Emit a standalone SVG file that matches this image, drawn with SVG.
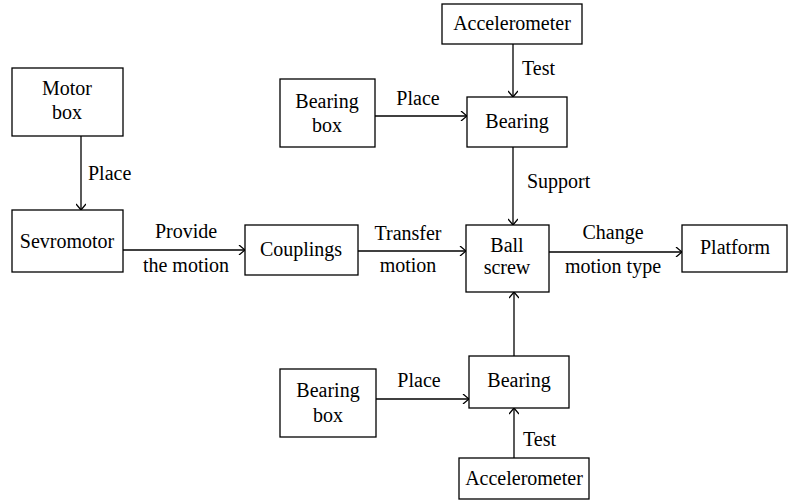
<svg xmlns="http://www.w3.org/2000/svg" width="788" height="500" viewBox="0 0 788 500">
<style>
.n{fill:#fff;stroke:#000;stroke-width:1.3}
text{font-family:'Liberation Serif','DejaVu Serif',serif;font-size:20px;fill:#000}
.c{text-anchor:middle}
.e line{stroke:#000;stroke-width:1.3}
</style>
<defs>
<marker id="a" viewBox="0 0 10 10" refX="10" refY="5" markerWidth="10" markerHeight="10" markerUnits="userSpaceOnUse" orient="auto">
<polyline points="4,0 10,5 4,10" fill="none" stroke="#000" stroke-width="1.3"/>
</marker>
</defs>
<rect width="788" height="500" fill="#fff"/>
<g font-family="Liberation Serif, DejaVu Serif, serif">
<g class="e" id="connectors">
<line x1="81" y1="136" x2="81" y2="210" marker-end="url(#a)"/>
<line x1="123" y1="250" x2="245" y2="250" marker-end="url(#a)"/>
<line x1="358" y1="251" x2="466" y2="251" marker-end="url(#a)"/>
<line x1="549" y1="252" x2="682" y2="252" marker-end="url(#a)"/>
<line x1="513" y1="44" x2="513" y2="97" marker-end="url(#a)"/>
<line x1="375" y1="116" x2="467" y2="116" marker-end="url(#a)"/>
<line x1="513" y1="147" x2="513" y2="225" marker-end="url(#a)"/>
<line x1="514" y1="356" x2="514" y2="292" marker-end="url(#a)"/>
<line x1="376" y1="399" x2="469" y2="399" marker-end="url(#a)"/>
<line x1="514" y1="458" x2="514" y2="408" marker-end="url(#a)"/>
<text x="88" y="180">Place</text>
<text class="c" x="186" y="238">Provide</text>
<text class="c" x="186" y="272">the motion</text>
<text class="c" x="408" y="240">Transfer</text>
<text class="c" x="408" y="272">motion</text>
<text class="c" x="613" y="239">Change</text>
<text class="c" x="613" y="273">motion type</text>
<text x="522" y="75">Test</text>
<text class="c" x="418" y="105">Place</text>
<text x="527" y="188">Support</text>
<text class="c" x="419" y="387">Place</text>
<text x="523" y="446">Test</text>
</g>
<g id="motorbox"><rect class="n" x="12" y="68" width="111" height="68"/><text class="c" x="67" y="95">Motor</text><text class="c" x="67" y="119">box</text></g>
<g id="sevromotor"><rect class="n" x="12" y="210" width="111" height="62"/><text class="c" x="67" y="248">Sevromotor</text></g>
<g id="couplings"><rect class="n" x="245" y="225" width="113" height="50"/><text class="c" x="301" y="256">Couplings</text></g>
<g id="ballscrew"><rect class="n" x="466" y="225" width="83" height="67"/><text class="c" x="507" y="252">Ball</text><text class="c" x="507" y="274">screw</text></g>
<g id="platform"><rect class="n" x="682" y="225" width="105" height="47"/><text class="c" x="735" y="254">Platform</text></g>
<g id="accel1"><rect class="n" x="442" y="4" width="140" height="40"/><text class="c" x="512" y="30">Accelerometer</text></g>
<g id="bearingbox1"><rect class="n" x="280" y="79" width="95" height="68"/><text class="c" x="327" y="108">Bearing</text><text class="c" x="327" y="132">box</text></g>
<g id="bearing1"><rect class="n" x="467" y="97" width="100" height="50"/><text class="c" x="517" y="128">Bearing</text></g>
<g id="bearing2"><rect class="n" x="469" y="356" width="100" height="52"/><text class="c" x="519" y="387">Bearing</text></g>
<g id="bearingbox2"><rect class="n" x="280" y="369" width="96" height="68"/><text class="c" x="328" y="397">Bearing</text><text class="c" x="328" y="422">box</text></g>
<g id="accel2"><rect class="n" x="459" y="458" width="130" height="41"/><text class="c" x="524" y="485">Accelerometer</text></g>
</g>
</svg>
